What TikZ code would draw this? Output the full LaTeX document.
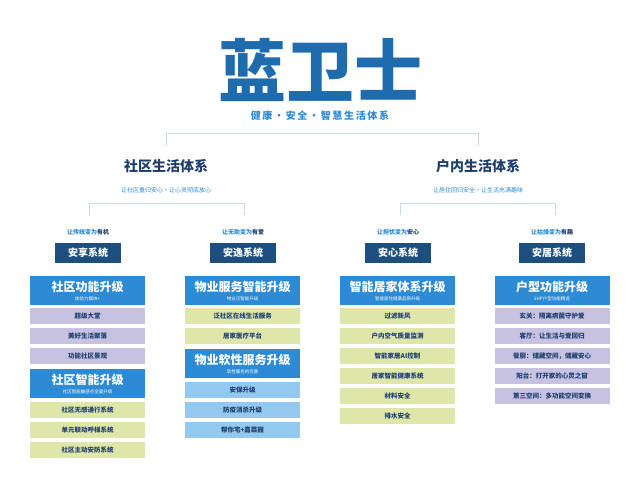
\documentclass[tikz,border=0pt]{standalone}
\usepackage{fontspec}
\setmainfont{Noto Sans CJK SC}
\begin{document}
\begin{tikzpicture}[x=1pt,y=-1pt,
 hd/.style={fill=hdblue,draw=none,minimum width=115pt,minimum height=29pt,inner sep=0pt,text=white,align=center},
 it/.style={draw=none,minimum width=115pt,minimum height=16pt,inner sep=0pt,text=navy,font=\fontsize{6.5}{7}\selectfont\bfseries},
 sys/.style={fill=sysblue,minimum width=66pt,minimum height=20pt,inner sep=0pt,text=white,font=\fontsize{10}{11}\selectfont\bfseries},
 lab/.style={text=hdblue,font=\fontsize{6}{6}\selectfont\bfseries,inner sep=0pt},
 sub/.style={text=hdblue,font=\fontsize{6}{6}\selectfont,inner sep=0pt},
 br/.style={draw=linec,line width=0.8pt}]
\definecolor{hdblue}{HTML}{2D8BD5}
\definecolor{sysblue}{HTML}{1C4F80}
\definecolor{navy}{HTML}{1D3F6E}
\definecolor{pur}{HTML}{C7C1E2}
\definecolor{ylw}{HTML}{DFE6AA}
\definecolor{lbl}{HTML}{93C8EF}
\definecolor{linec}{HTML}{C5DCEC}
\definecolor{logo}{HTML}{1E6BAE}
\useasboundingbox (0,0) rectangle (640,483);
\node[text=logo,font=\fontsize{68}{68}\selectfont\bfseries,inner sep=0pt] (logo) at (320,70) {蓝卫士};
\node[text=hdblue,font=\fontsize{10}{12}\selectfont\bfseries,inner sep=0pt] (tag) at (320,116) {健\,康\,·\,安\,全\,·\,智\,慧\,生\,活\,体\,系};
\coordinate (t1) at (166,146); \coordinate (t2) at (478,146);
\draw[br] (t1) -- (166,133) -- (478,133) -- (t2);
\node[text=navy,font=\fontsize{14}{15}\selectfont\bfseries,inner sep=0pt] (A) at (166,166) {社区生活体系};
\node[text=navy,font=\fontsize{14}{15}\selectfont\bfseries,inner sep=0pt] (B) at (478,166) {户内生活体系};
\node[sub] (As) at (166,190) {让社区重归安心·让心灵彻底放心};
\node[sub] (Bs) at (478,190) {让居住回归安全·让生活充满趣味};
\coordinate (a1) at (89,215); \coordinate (a2) at (244,215);
\coordinate (b1) at (400,215); \coordinate (b2) at (555,215);
\draw[br] (a1) -- (89,203) -- (244,203) -- (a2);
\draw[br] (b1) -- (400,203) -- (555,203) -- (b2);
\node[lab] (l1) at (88,232) {让传统变为\textcolor{navy}{有机}};
\node[lab] (l2) at (243,232) {让无助变为\textcolor{navy}{有爱}};
\node[lab] (l3) at (398,232) {让担忧变为\textcolor{navy}{安心}};
\node[lab] (l4) at (552,232) {让枯燥变为\textcolor{navy}{有趣}};
\node[sys] (s1) at (88,253) {安享系统};
\node[sys] (s2) at (243,253) {安逸系统};
\node[sys] (s3) at (398,253) {安心系统};
\node[sys] (s4) at (552,253) {安居系统};
\newcommand{\hdtxt}[2]{{\fontsize{12}{13}\selectfont\bfseries #1}\\[-3pt]{\fontsize{4.5}{5}\selectfont #2}}
% column 1
\node[hd] (h11) at (87.5,290.5) {\hdtxt{社区功能升级}{体验力模块+}};
\node[it,fill=pur] (i11) at (87.5,316) {超级大堂};
\node[it,fill=pur] (i12) at (87.5,336) {美好生活聚落};
\node[it,fill=pur] (i13) at (87.5,356) {功能社区景观};
\node[hd] (h12) at (87.5,383.5) {\hdtxt{社区智能升级}{社区智能触感点全面升级}};
\node[it,fill=ylw] (i14) at (87.5,410) {社区无感通行系统};
\node[it,fill=ylw] (i15) at (87.5,430) {单元联动呼梯系统};
\node[it,fill=ylw] (i16) at (87.5,450) {社区主动安防系统};
% column 2
\node[hd] (h21) at (242.5,290.5) {\hdtxt{物业服务智能升级}{物业泛智能升级}};
\node[it,fill=ylw] (i21) at (242.5,316) {泛社区在线生活服务};
\node[it,fill=ylw] (i22) at (242.5,336) {居家医疗平台};
\node[hd] (h22) at (242.5,363.5) {\hdtxt{物业软性服务升级}{软性服务的完善}};
\node[it,fill=lbl] (i23) at (242.5,390) {安保升级};
\node[it,fill=lbl] (i24) at (242.5,410) {防疫消杀升级};
\node[it,fill=lbl] (i25) at (242.5,430) {帮你宅+嘉菜园};
% column 3
\node[hd] (h31) at (397.5,290.5) {\hdtxt{智能居家体系升级}{智能居住健康品质升级}};
\node[it,fill=ylw] (i31) at (397.5,316) {过滤新风};
\node[it,fill=ylw] (i32) at (397.5,336) {户内空气质量监测};
\node[it,fill=ylw] (i33) at (397.5,356) {智能家居AI控制};
\node[it,fill=ylw] (i34) at (397.5,376) {居家智能健康系统};
\node[it,fill=ylw] (i35) at (397.5,396) {材料安全};
\node[it,fill=ylw] (i36) at (397.5,416) {排水安全};
% column 4
\node[hd] (h41) at (552,290.5) {\hdtxt{户型功能升级}{5HP户型功能精选}};
\node[it,fill=pur] (i41) at (552,316) {玄关：隔离病菌守护爱};
\node[it,fill=pur] (i42) at (552,336) {客厅：让生活与爱回归};
\node[it,fill=pur] (i43) at (552,356) {餐厨：储藏空间，储藏安心};
\node[it,fill=pur] (i44) at (552,376) {阳台：打开家的心灵之窗};
\node[it,fill=pur] (i45) at (552,396) {第三空间：多功能空间变换};
\end{tikzpicture}
\end{document}
